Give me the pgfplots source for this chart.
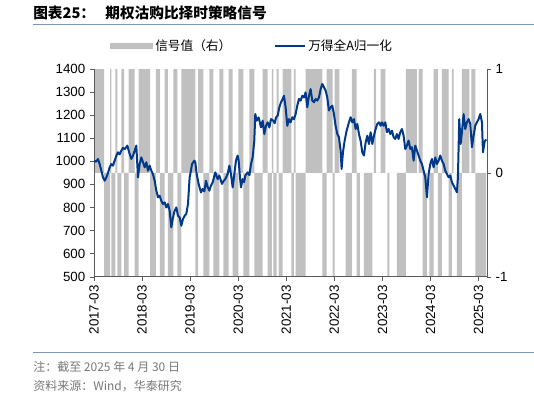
\documentclass[border=0pt]{standalone}
\usepackage{fontspec}
\setmainfont{Liberation Sans}
\newfontfamily\cjk{Noto Sans CJK SC}
\usepackage{pgfplots}
\pgfplotsset{compat=1.18}
\definecolor{barg}{RGB}{192,192,192}
\definecolor{lineblue}{RGB}{0,56,138}
\definecolor{axgray}{RGB}{90,90,90}
\definecolor{rulecol}{RGB}{125,150,185}
\definecolor{foot}{RGB}{120,120,120}

\pgfplotstableread{
x y
0 1
2.5 -1
4.0 1
4.33 -1
5.32 1
5.82 -1
6.82 1
7.49 -1
8.65 1
10.15 -1
11.15 1
13.98 -1
15.47 1
16.47 -1
17.64 1
18.47 -1
19.8 1
20.8 -1
21.8 1
25.29 -1
25.96 1
27.29 -1
28.78 1
29.78 -1
31.28 1
32.28 -1
33.61 1
34.61 -1
36.02 1
37.27 -1
38.77 1
40.01 -1
42.1 1
43.35 -1
44.43 1
44.76 -1
45.6 1
46.1 -1
47.1 1
49.25 -1
49.91 1
50.33 -1
52.82 1
56.98 -1
58.07 1
59.56 -1
60.06 1
61.23 0
62.81 -1
64.39 1
65.55 -1
66.39 0
67.39 -1
69.47 0
69.88 1
70.38 0
71.55 1
72.71 0
73.21 -1
73.71 0
75.62 -1
77.87 1
80.61 0
81.03 1
82.03 -1
83.11 0
83.69 -1
84.77 1
85.85 -1
86.85 1
88.51 -1
89.35 1
89.76 0
90.59 -1
91.84 1
93.67 0
94.17 1
95.17 -1
97.9 0
}\signal

\pgfplotstableread{
x y
0 1003
0.5 998
1.0 1010
1.41 988
1.8 962
2.25 930
2.66 916
3.08 930
3.5 950
3.91 974
4.33 988
4.74 981
5.16 1003
5.6 1025
5.99 1039
6.4 1030
6.82 1046
7.25 1058
7.65 1053
8.0 1060
8.32 1068
8.9 1032
9.32 1010
9.73 1025
10.15 1046
10.56 1068
10.98 930
11.4 988
11.81 1017
12.23 996
12.65 974
13.06 996
13.48 959
13.89 981
14.31 959
14.7 945
15.14 916
15.56 873
15.97 844
16.39 851
16.8 829
17.22 815
17.64 822
18.05 800
18.47 815
18.88 786
19.3 714
19.72 757
20.13 786
20.55 800
20.96 764
21.38 757
21.8 721
22.21 750
22.63 764
23.04 772
23.46 815
23.87 930
24.2 960
24.46 988
25.04 1003
25.29 996
25.62 945
26.12 902
26.7 865
27.12 880
27.54 870
27.95 916
28.35 890
28.78 873
29.2 895
29.62 909
30.28 952
30.86 923
31.28 938
31.94 902
32.35 915
32.78 923
33.36 945
33.78 981
34.19 945
34.61 887
35.03 945
35.44 1003
35.86 1025
36.11 1003
36.44 930
36.69 887
37.1 923
37.45 910
37.77 938
38.35 952
38.8 940
39.18 988
39.6 1017
40.01 1089
40.26 1205
40.6 1176
41.1 1190
41.68 1147
42.1 1176
42.51 1118
42.93 1154
43.35 1169
43.77 1147
44.18 1183
44.76 1176
45.1 1165
45.43 1190
45.85 1198
46.26 1234
46.68 1256
47.1 1270
47.42 1284
47.83 1234
48.25 1154
48.67 1183
49.08 1169
49.5 1191
49.91 1183
50.33 1205
50.74 1241
51.16 1270
51.58 1263
51.99 1284
52.41 1277
52.82 1299
53.24 1234
53.66 1284
54.07 1313
54.49 1263
54.9 1256
55.32 1270
55.74 1263
56.15 1277
56.57 1313
56.98 1335
57.4 1321
57.82 1306
58.23 1277
58.65 1220
59.06 1234
59.48 1241
59.89 1205
60.31 1154
60.73 1118
61.14 1104
61.56 1046
61.81 967
62.14 1039
62.56 1089
63.06 1133
63.64 1169
64.06 1191
64.47 1169
64.89 1183
65.31 1140
65.72 1162
66.14 1118
66.55 1089
66.97 1039
67.39 1025
67.8 1082
68.22 1111
68.63 1075
69.05 1126
69.47 1075
69.88 1111
70.3 1140
70.71 1162
71.13 1169
71.55 1154
71.87 1169
72.29 1154
72.71 1169
73.12 1126
73.54 1140
73.95 1118
74.37 1133
74.79 1104
75.2 1097
75.62 1118
76.03 1097
76.45 1126
76.87 1140
77.28 1111
77.7 1053
78.11 1068
78.53 1090
78.95 1053
79.36 1061
79.78 1003
80.19 1068
80.61 1046
81.03 1025
81.44 1003
81.86 988
82.27 960
82.69 931
83.11 844
83.52 945
83.94 988
84.35 1010
84.77 974
85.19 1017
85.6 988
86.02 1003
86.43 1025
86.85 1003
87.27 988
87.68 960
88.1 945
88.51 931
88.93 938
89.35 909
89.76 895
90.18 880
90.59 866
90.84 931
91.17 1183
91.51 1075
91.84 1126
92.26 1205
92.67 1140
93.09 1169
93.51 1183
93.92 1162
94.34 1061
94.75 1111
95.17 1155
95.59 1169
96.0 1183
96.42 1205
96.84 1169
97.09 1039
97.5 1085
97.9 1095
}\wind

\begin{document}
\begin{tikzpicture}[x=0.75pt,y=0.75pt]
\path[use as bounding box] (0,0) rectangle (534,397);
% title
\node[anchor=west, inner sep=0pt, font=\cjk\bfseries\fontsize{11pt}{13pt}\selectfont] at (33,384) {图表25：\hspace{0.7em}期权沽购比择时策略信号};
\draw[rulecol, line width=0.7pt] (33,373) -- (534,373);
% legend
\fill[barg] (110,348) rectangle (153,354);
\node[anchor=west, inner sep=0pt, font=\cjk\fontsize{9.5pt}{11pt}\selectfont] at (155,351) {信号值（右）};
\draw[lineblue, line width=1.5pt] (275,351) -- (305,351);
\node[anchor=west, inner sep=0pt, font=\cjk\fontsize{9.5pt}{11pt}\selectfont] at (308,351) {万得全A归一化};

% right axis: signal bars
\begin{axis}[
  at={(70.5pt,90.225pt)}, anchor=south west, scale only axis,
  width=294.75pt, height=155.775pt,
  xmin=0, xmax=98.1, ymin=-1, ymax=1,
  axis x line=none, axis y line*=right,
  axis line style={-, draw=axgray},
  ytick={-1,0,1}, yticklabels={-1,0,1},
  tick align=outside, major tick length=3pt,
  tick style={axgray},
  yticklabel style={font=\fontsize{10pt}{12pt}\selectfont},
  /pgf/number format/assume math mode=true,
]
\addplot[ybar interval, fill=barg, draw=none] table[x=x, y=y] {\signal};
\end{axis}

% left axis: index line
\begin{axis}[
  at={(70.5pt,90.225pt)}, anchor=south west, scale only axis,
  width=294.75pt, height=155.775pt,
  xmin=0, xmax=98.1, ymin=500, ymax=1400,
  axis x line*=bottom, axis y line*=left,
  axis line style={-, draw=axgray},
  xtick={0,12,24,36,48,60,72,84,96},
  xticklabels={2017-03,2018-03,2019-03,2020-03,2021-03,2022-03,2023-03,2024-03,2025-03},
  x tick label style={rotate=90, anchor=east, font=\fontsize{10pt}{12pt}\selectfont},
  ytick={500,600,700,800,900,1000,1100,1200,1300,1400},
  yticklabel style={font=\fontsize{10pt}{12pt}\selectfont},
  tick align=outside, major tick length=3pt,
  tick style={axgray},
  /pgf/number format/assume math mode=true,
  /pgf/number format/1000 sep={},
]
\addplot[lineblue, line width=1.5pt, line join=round] table[x=x, y=y] {\wind};
\end{axis}

% footer
\draw[rulecol, line width=0.7pt] (33,45) -- (534,45);
\node[anchor=west, inner sep=0pt, text=foot, font=\cjk\fontsize{9pt}{11pt}\selectfont] at (33,30) {注：截至 2025 年 4 月 30 日};
\node[anchor=west, inner sep=0pt, text=foot, font=\cjk\fontsize{9pt}{11pt}\selectfont] at (33,11) {资料来源：Wind，华泰研究};
\end{tikzpicture}
\end{document}
